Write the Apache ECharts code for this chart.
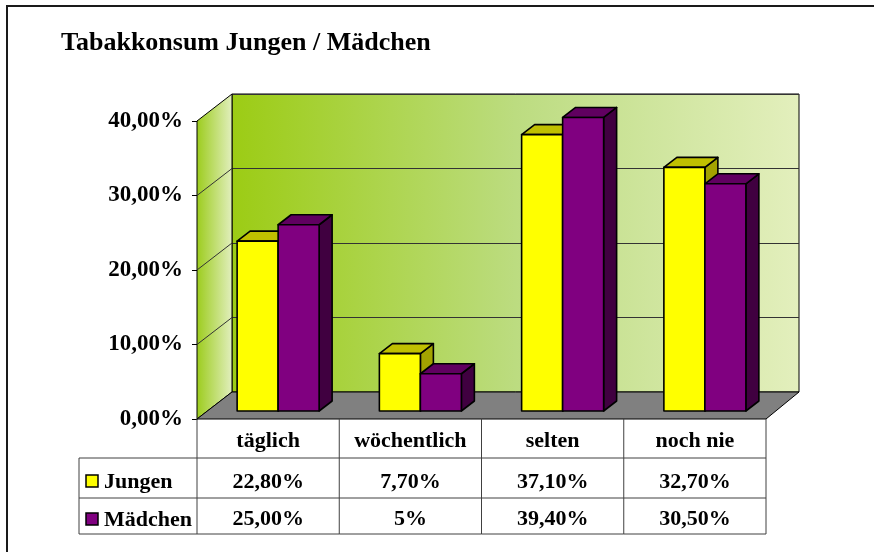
<!DOCTYPE html>
<html>
<head>
<meta charset="utf-8">
<script src="https://cdn.jsdelivr.net/npm/echarts@6/dist/echarts.min.js"></script>
<style>
  html, body { margin: 0; padding: 0; background: #fff; }
  #chart { width: 874px; height: 552px; }
</style>
</head>
<body>
<div id="chart"></div>
<script>
// Daten
const categories = ['täglich', 'wöchentlich', 'selten', 'noch nie'];
const seriesNames = ['Jungen', 'Mädchen'];
const jungen = [22.8, 7.7, 37.1, 32.7];
const maedchen = [25.0, 5, 39.4, 30.5];
const jungenLabels = ['22,80%', '7,70%', '37,10%', '32,70%'];
const maedchenLabels = ['25,00%', '5%', '39,40%', '30,50%'];
const yTickLabels = ['0,00%', '10,00%', '20,00%', '30,00%', '40,00%'];
const yTicks = [10, 20, 30];

const FONT = 'Liberation Serif';
// 3D-Optik
const DX = 35, DY = -27;          // Tiefe Wand/Boden
const BAR_DX = 10, BAR_DY = -8;   // Lage der Säulen in der Tiefe
const BD_X = 13, BD_Y = -10;      // Säulentiefe
const BAR_W = 41;
const ROW_H = [39, 40, 36];
const LEG_X = 79;

const faces = [
  { front: '#ffff00', top: '#c0c000', side: '#a3a300' },
  { front: '#800080', top: '#600060', side: '#400040' }
];
const tableLine = '#404040';

const myChart = echarts.init(document.getElementById('chart'));

function renderWalls(params, api) {
  const cs = params.coordSys;
  const l = cs.x, t = cs.y, b = cs.y + cs.height, r = cs.x + cs.width;
  const children = [];
  children.push({
    type: 'polygon',
    shape: { points: [[l, t], [l + DX, t + DY], [l + DX, b + DY], [l, b]] },
    style: {
      fill: new echarts.graphic.LinearGradient(0, 0, 1, 0, [
        { offset: 0, color: '#9ccc1c' },
        { offset: 1, color: '#e2efbf' }
      ]),
      stroke: '#000', lineWidth: 1
    }
  });
  yTicks.forEach(function (v) {
    const y = api.coord([0, v])[1];
    children.push({
      type: 'line',
      shape: { x1: l, y1: y, x2: l + DX, y2: y + DY },
      style: { stroke: '#333', lineWidth: 1 }
    });
  });
  children.push({
    type: 'polygon',
    shape: { points: [[l, b], [r, b], [r + DX - 2, b + DY], [l + DX, b + DY]] },
    style: { fill: '#808080', stroke: '#000', lineWidth: 1 }
  });
  return { type: 'group', children: children };
}

function makeBarRenderer(s) {
  return function (params, api) {
    const cat = api.value(0);
    const c = api.coord([cat, api.value(1)]);
    const base = api.coord([cat, 0]);
    const x0 = c[0] + BAR_DX + (s === 0 ? -BAR_W : 0);
    const x1 = x0 + BAR_W;
    const yT = c[1] + BAR_DY;
    const yB = base[1] + BAR_DY;
    const f = faces[s];
    const st = { stroke: '#000', lineWidth: 1.6, lineJoin: 'round' };
    return {
      type: 'group',
      children: [
        {
          type: 'polygon',
          shape: { points: [[x1, yT], [x1 + BD_X, yT + BD_Y], [x1 + BD_X, yB + BD_Y], [x1, yB]] },
          style: Object.assign({ fill: f.side }, st)
        },
        {
          type: 'polygon',
          shape: { points: [[x0, yT], [x1, yT], [x1 + BD_X, yT + BD_Y], [x0 + BD_X, yT + BD_Y]] },
          style: Object.assign({ fill: f.top }, st)
        },
        {
          type: 'rect',
          shape: { x: x0, y: yT, width: BAR_W, height: yB - yT },
          style: Object.assign({ fill: f.front }, st)
        }
      ]
    };
  };
}

function cellText(x, y, text, align) {
  return {
    type: 'text',
    style: {
      x: x, y: y, text: text,
      fontFamily: FONT, fontSize: 22, fontWeight: 'bold', fill: '#000',
      align: align || 'center', verticalAlign: 'middle'
    }
  };
}

function renderTable(params, api) {
  const cs = params.coordSys;
  const i = api.value(0);
  const cx = api.coord([i, 0])[0];
  const half = api.size([1, 0])[0] / 2;
  const x0 = cx - half, x1 = cx + half;
  const y0 = cs.y + cs.height;
  const y1 = y0 + ROW_H[0], y2 = y1 + ROW_H[1], y3 = y2 + ROW_H[2];
  const ls = { stroke: tableLine, lineWidth: 1 };
  const ch = [];
  ch.push({ type: 'line', shape: { x1: x1, y1: y0, x2: x1, y2: y3 }, style: ls });
  [y1, y2, y3].forEach(function (y) {
    ch.push({ type: 'line', shape: { x1: x0, y1: y, x2: x1, y2: y }, style: ls });
  });
  ch.push(cellText(cx, (y0 + y1) / 2 + 3, categories[i]));
  ch.push(cellText(cx, (y1 + y2) / 2 + 4, jungenLabels[i]));
  ch.push(cellText(cx, (y2 + y3) / 2 + 3, maedchenLabels[i]));
  if (i === 0) {
    ch.push({ type: 'line', shape: { x1: x0, y1: y0, x2: x0, y2: y3 }, style: ls });
    ch.push({ type: 'line', shape: { x1: LEG_X, y1: y1, x2: LEG_X, y2: y3 }, style: ls });
    [y1, y2, y3].forEach(function (y) {
      ch.push({ type: 'line', shape: { x1: LEG_X, y1: y, x2: x0, y2: y }, style: ls });
    });
    [[y1, y2], [y2, y3]].forEach(function (r, k) {
      const my = (r[0] + r[1]) / 2 + 3;
      ch.push({
        type: 'rect',
        shape: { x: LEG_X + 7, y: my - 6, width: 12, height: 12 },
        style: { fill: faces[k].front, stroke: '#000', lineWidth: 1.5 }
      });
      ch.push(cellText(LEG_X + 25, my + 1, seriesNames[k], 'left'));
    });
  }
  return { type: 'group', children: ch };
}

const option = {
  animation: false,
  backgroundColor: '#fff',
  title: {
    text: 'Tabakkonsum Jungen / Mädchen',
    left: 56,
    top: 25,
    textStyle: { fontFamily: FONT, fontSize: 26, fontWeight: 'bold', color: '#000' }
  },
  graphic: [{
    type: 'rect',
    shape: { x: 7, y: 6, width: 900, height: 600 },
    style: { fill: 'none', stroke: '#1a1a1a', lineWidth: 2 },
    silent: true
  }],
  grid: [
    // Vorderkante (Achse + Tabelle)
    { left: 197, top: 121, width: 569, height: 298 },
    // Rückwand
    {
      left: 232, top: 94, width: 567, height: 298,
      show: true,
      borderColor: '#000', borderWidth: 1,
      backgroundColor: new echarts.graphic.LinearGradient(0, 0, 1, 0, [
        { offset: 0, color: '#9ccc14' },
        { offset: 0.5, color: '#bcdc80' },
        { offset: 1, color: '#e3efbd' }
      ])
    }
  ],
  xAxis: [
    { gridIndex: 0, type: 'category', data: categories, axisLine: { show: false },
      axisTick: { show: false }, axisLabel: { show: false } },
    { gridIndex: 1, type: 'category', data: categories, show: false }
  ],
  yAxis: [
    {
      gridIndex: 0, type: 'value', min: 0, max: 40, interval: 10,
      axisLine: { show: true, lineStyle: { color: '#000', width: 1 } },
      axisTick: { show: true, length: 5, lineStyle: { color: '#000' } },
      splitLine: { show: false },
      axisLabel: {
        margin: 14,
        fontFamily: FONT, fontSize: 23, fontWeight: 'bold', color: '#000',
        formatter: function (v, i) { return yTickLabels[i]; }
      }
    },
    {
      gridIndex: 1, type: 'value', min: 0, max: 40, interval: 10,
      axisLine: { show: false }, axisTick: { show: false }, axisLabel: { show: false },
      splitLine: { show: true, lineStyle: { color: '#333', width: 1.2 } }
    }
  ],
  series: [
    {
      name: 'walls', type: 'custom', xAxisIndex: 0, yAxisIndex: 0,
      data: [[0, 0]], renderItem: renderWalls, silent: true
    },
    {
      name: seriesNames[0], type: 'custom', xAxisIndex: 0, yAxisIndex: 0,
      data: jungen.map(function (v, i) { return [i, v]; }),
      encode: { x: 0, y: 1 }, renderItem: makeBarRenderer(0)
    },
    {
      name: seriesNames[1], type: 'custom', xAxisIndex: 0, yAxisIndex: 0,
      data: maedchen.map(function (v, i) { return [i, v]; }),
      encode: { x: 0, y: 1 }, renderItem: makeBarRenderer(1)
    },
    {
      name: 'table', type: 'custom', xAxisIndex: 0, yAxisIndex: 0,
      data: categories.map(function (c, i) { return [i, 0]; }),
      encode: { x: 0, y: 1 }, renderItem: renderTable, silent: true
    }
  ]
};

myChart.setOption(option);
window.addEventListener('resize', function () {
  myChart.resize();
});
</script>
</body>
</html>
